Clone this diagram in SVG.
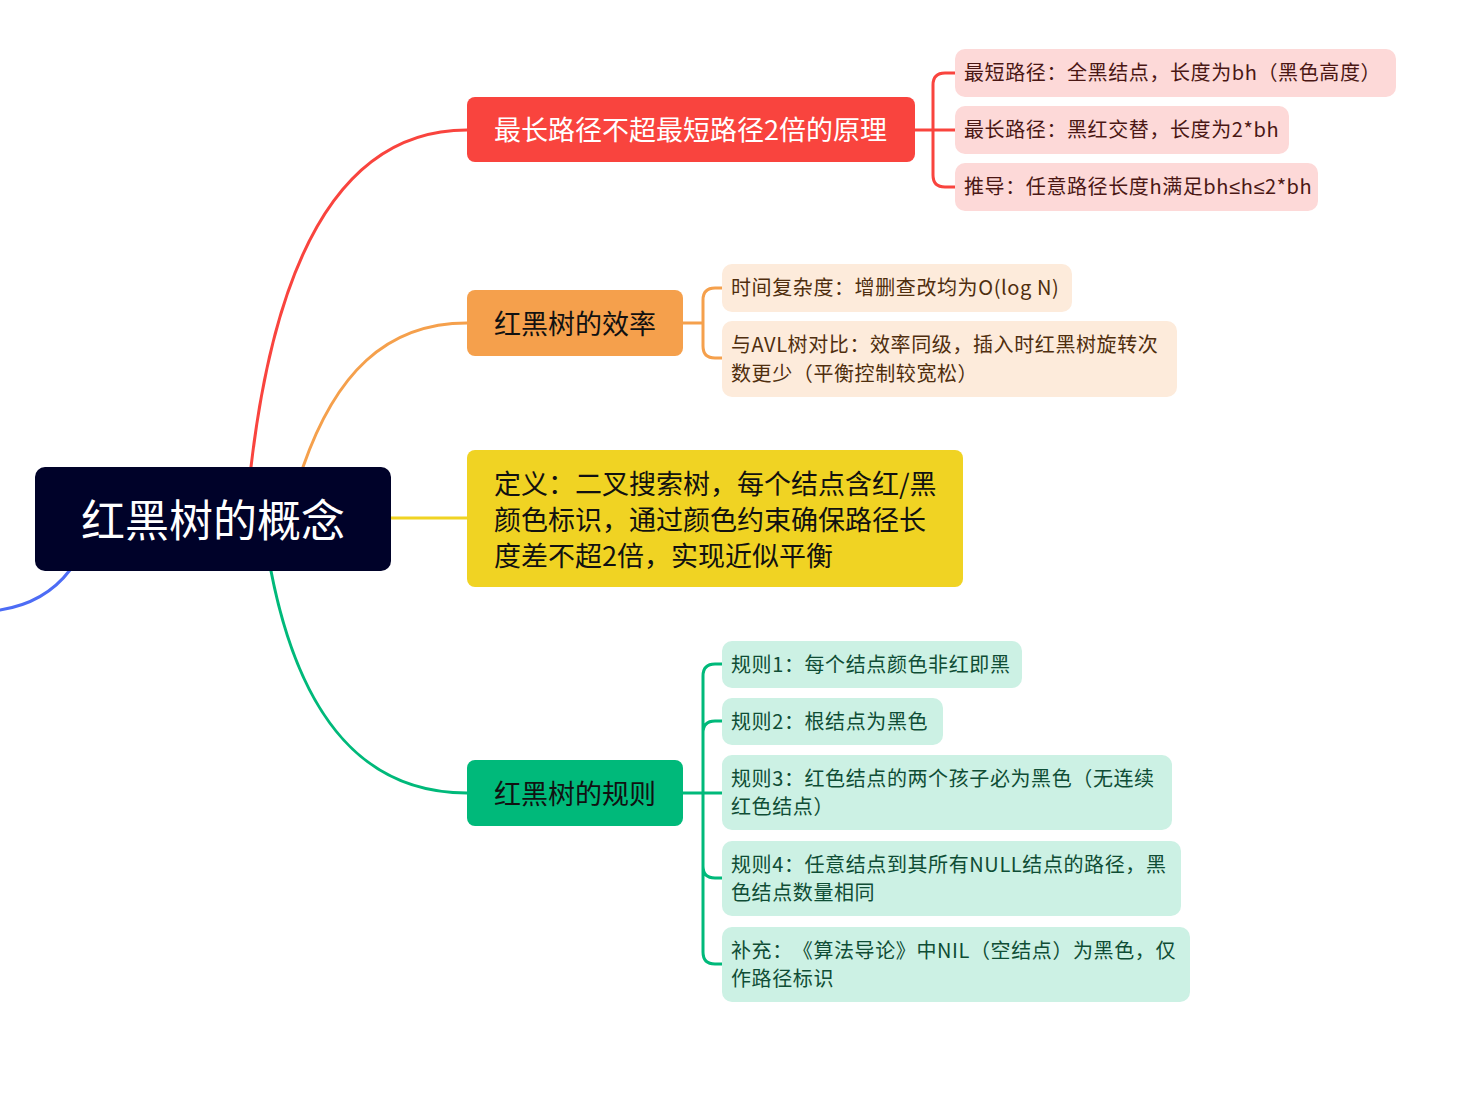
<svg xmlns="http://www.w3.org/2000/svg" width="1479" height="1102" viewBox="0 0 1479 1102">
<style>
text{font-family:"Microsoft YaHei","Noto Sans CJK SC","Noto Sans",sans-serif;text-spacing-trim:space-all}
.main{font-size:27px}
.sub{font-size:20px;letter-spacing:0.6px}
.lat{font-family:"Noto Sans","Liberation Sans",sans-serif}
.conn{fill:none;stroke-width:3;stroke-linecap:round}
</style>
<rect width="1479" height="1102" fill="#ffffff"/>
<g id="connectors">
<path class="conn" stroke="#4D6CF5" d="M70 570 Q45 603 0 610"/>
<path class="conn" stroke="#F9443E" d="M251 467 C275 260 340 130 467 130"/>
<path class="conn" stroke="#F5A04C" d="M303 467 C335 375 385 323 467 323"/>
<path class="conn" stroke="#F0D323" d="M391 518 H467"/>
<path class="conn" stroke="#00B97A" d="M271 571 C300 720 365 793 467 793"/>
<path class="conn" stroke="#F9443E" d="M915 130 H955 M955 73 H945 Q933 73 933 85 V175 Q933 187 945 187 H955"/>
<path class="conn" stroke="#F5A04C" d="M683 323 H703 M722 288 H715 Q703 288 703 300 V346 Q703 358 715 358 H722"/>
<path class="conn" stroke="#00B97A" d="M683 793 H722 M722 664 H715 Q703 664 703 676 V952 Q703 964 715 964 H722 M722 721 H715 Q703 721 703 733 M703 866 Q703 878 715 878 H722"/>
</g>
<g id="root">
<rect x="35" y="467" width="356" height="104" rx="10" fill="#000229"/>
<text x="213" y="537" font-size="44" fill="#ffffff" text-anchor="middle">红黑树的概念</text>
</g>
<g id="n-principle">
<rect x="467" y="97" width="448" height="65" rx="8" fill="#F9443E"/>
<text class="main" x="494" y="140" fill="#ffffff">最长路径不超最短路径2倍的原理</text>
</g>
<g id="n-p1">
<rect x="955" y="49" width="441" height="48" rx="10" fill="#FDD9D8"/>
<text class="sub" x="964" y="80" fill="#4a1714">最短路径：全黑结点，长度为bh（黑色高度）</text>
</g>
<g id="n-p2">
<rect x="955" y="106" width="334" height="48" rx="10" fill="#FDD9D8"/>
<text class="sub" x="964" y="137" fill="#4a1714">最长路径：黑红交替，长度为2*bh</text>
</g>
<g id="n-p3">
<rect x="955" y="163" width="363" height="48" rx="10" fill="#FDD9D8"/>
<text class="sub" x="964" y="194" fill="#4a1714">推导：任意路径长度h满足bh<tspan class="lat">≤</tspan>h<tspan class="lat">≤</tspan>2*bh</text>
</g>
<g id="n-efficiency">
<rect x="467" y="290" width="216" height="66" rx="8" fill="#F5A04C"/>
<text class="main" x="494" y="334" fill="#111111">红黑树的效率</text>
</g>
<g id="n-e1">
<rect x="722" y="264" width="350" height="48" rx="10" fill="#FDEBDB"/>
<text class="sub" x="731" y="295" fill="#4f2e0e">时间复杂度：增删查改均为O(log N)</text>
</g>
<g id="n-e2">
<rect x="722" y="321" width="455" height="76" rx="10" fill="#FDEBDB"/>
<text class="sub" x="731" y="352" fill="#4f2e0e">与AVL树对比：效率同级，插入时红黑树旋转次</text>
<text class="sub" x="731" y="381" fill="#4f2e0e">数更少（平衡控制较宽松）</text>
</g>
<g id="n-definition">
<rect x="467" y="450" width="496" height="137" rx="8" fill="#F0D323"/>
<text class="main" x="494" y="494" fill="#111111">定义：二叉搜索树，每个结点含红/黑</text>
<text class="main" x="494" y="530" fill="#111111">颜色标识，通过颜色约束确保路径长</text>
<text class="main" x="494" y="566" fill="#111111">度差不超2倍，实现近似平衡</text>
</g>
<g id="n-rules">
<rect x="467" y="760" width="216" height="66" rx="8" fill="#00B97A"/>
<text class="main" x="494" y="804" fill="#111111">红黑树的规则</text>
</g>
<g id="n-r1">
<rect x="722" y="641" width="300" height="47" rx="10" fill="#CCF1E4"/>
<text class="sub" x="731" y="672" fill="#0f4d35">规则1：每个结点颜色非红即黑</text>
</g>
<g id="n-r2">
<rect x="722" y="698" width="221" height="47" rx="10" fill="#CCF1E4"/>
<text class="sub" x="731" y="729" fill="#0f4d35">规则2：根结点为黑色</text>
</g>
<g id="n-r3">
<rect x="722" y="755" width="450" height="75" rx="10" fill="#CCF1E4"/>
<text class="sub" x="731" y="786" fill="#0f4d35">规则3：红色结点的两个孩子必为黑色（无连续</text>
<text class="sub" x="731" y="814" fill="#0f4d35">红色结点）</text>
</g>
<g id="n-r4">
<rect x="722" y="841" width="459" height="75" rx="10" fill="#CCF1E4"/>
<text class="sub" x="731" y="872" fill="#0f4d35">规则4：任意结点到其所有NULL结点的路径，黑</text>
<text class="sub" x="731" y="900" fill="#0f4d35">色结点数量相同</text>
</g>
<g id="n-r5">
<rect x="722" y="927" width="468" height="75" rx="10" fill="#CCF1E4"/>
<text class="sub" x="731" y="958" fill="#0f4d35">补充：《算法导论》中NIL（空结点）为黑色，仅</text>
<text class="sub" x="731" y="986" fill="#0f4d35">作路径标识</text>
</g>
</svg>
